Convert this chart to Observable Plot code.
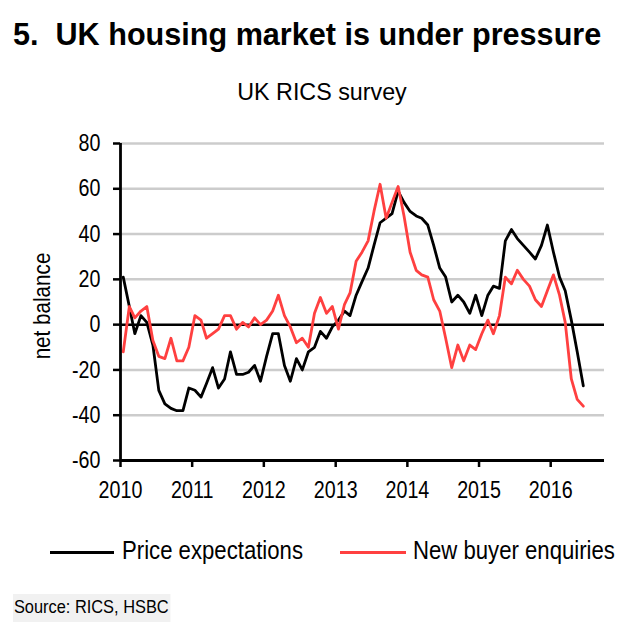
<!DOCTYPE html>
<html><head><meta charset="utf-8">
<script src="https://cdn.jsdelivr.net/npm/d3@7"></script>
<script src="https://cdn.jsdelivr.net/npm/@observablehq/plot@0.6"></script>
<style>
body{margin:0;background:#fff;}
#wrap{position:relative;width:630px;height:641px;overflow:hidden;font-family:"Liberation Sans",Arial,sans-serif;color:#000;}
#title{position:absolute;left:13px;top:17px;font-weight:bold;font-size:30.6px;white-space:nowrap;}
#subtitle{position:absolute;left:0;width:644px;text-align:center;top:78px;font-size:24px;white-space:nowrap;transform:scaleX(0.97);transform-origin:50% 50%;}
#chart{position:absolute;left:0;top:115px;}
#ylabel{position:absolute;left:42px;top:306px;transform:translate(-50%,-50%) rotate(-90deg) scaleX(0.86);font-size:24px;white-space:nowrap;}
#legend{position:absolute;left:0;top:536px;width:630px;height:32px;font-size:25px;}
.sw{position:absolute;top:15px;height:3px;}
.lt{position:absolute;top:0;white-space:nowrap;transform:scaleX(0.886);transform-origin:0 50%;}
#source{position:absolute;left:13px;top:594px;background:#f1f1f1;font-size:18px;padding:3px 2px 4px 1px;white-space:nowrap;transform:scaleX(0.91);transform-origin:0 50%;}
</style>
</head><body>
<div id="wrap">
  <div id="title">5.&nbsp; UK housing market is under pressure</div>
  <div id="subtitle">UK RICS survey</div>
  <div id="chart"></div>
  <div id="ylabel">net balance</div>
  <div id="legend">
    <div class="sw" style="left:50px;width:64px;background:#000"></div>
    <div class="lt" style="left:122px">Price expectations</div>
    <div class="sw" style="left:340px;width:66px;background:#ff4040"></div>
    <div class="lt" style="left:413px">New buyer enquiries</div>
  </div>
  <div id="source">Source: RICS, HSBC</div>
</div>
<script>
// Monthly survey readings, Jan 2010 – Jun 2016 (net balance)
const firstYear = 2010;
const priceExpectations = [
  21, 8, -4, 4, 1, -9, -29, -35, -37, -38, -38, -28,
  -29, -32, -26, -19, -28, -24, -12, -22, -22, -21, -18, -25,
  -14, -4, -4, -18, -25, -15, -20, -12, -10, -3, -6, -1,
  2, 6, 4, 13, 19, 25, 35, 45, 47, 49, 59, 54,
  50, 48, 47, 44, 35, 25, 21, 10, 13, 10, 5, 13,
  4, 13, 17, 16, 37, 42, 38, 35, 32, 29, 35, 44,
  32, 21, 15, 2, -12, -27
];
const newBuyerEnquiries = [
  -12, 8, 3, 6, 8, -7, -14, -15, -6, -16, -16, -10,
  4, 2, -6, -4, -2, 4, 4, -2, 1, -1, 3, 0,
  2, 6, 13, 4, -1, -8, -6, -10, 5, 12, 5, 8,
  -2, 9, 14, 28, 32, 37, 50, 62, 47, 54, 61, 48,
  32, 24, 22, 21, 11, 6, -6, -19, -9, -16, -9, -11,
  -4, 2, -4, 4, 21, 18, 24, 20, 17, 11, 8, 15,
  22, 13, 1, -24, -33, -36
];
const yearTicks = [2010, 2011, 2012, 2013, 2014, 2015, 2016];
const yTicks = [-60, -40, -20, 0, 20, 40, 60, 80];
const gridValues = [-40, -20, 20, 40, 60, 80];
const seriesNames = ["Price expectations", "New buyer enquiries"];

const monthDate = i => new Date(Date.UTC(firstYear, i, 15));
const priceData = priceExpectations.map((v, i) => ({date: monthDate(i), value: v}));
const buyerData = newBuyerEnquiries.map((v, i) => ({date: monthDate(i), value: v}));
const xStart = new Date(Date.UTC(2010, 0, 1));
const xEnd = new Date(Date.UTC(2016, 9, 1));

const chart = Plot.plot({
  width: 630,
  height: 400,
  marginLeft: 120,
  marginRight: 26,
  marginTop: 28,
  marginBottom: 55,
  x: {type: "utc", domain: [xStart, xEnd]},
  y: {domain: [-60, 80]},
  style: {fontFamily: '"Liberation Sans",Arial,sans-serif', fontSize: "24px", color: "#000", background: "transparent", overflow: "visible"},
  marks: [
    Plot.ruleY(gridValues, {stroke: "#cccccc", strokeWidth: 2.5}),
    Plot.ruleY([0], {stroke: "#000", strokeWidth: 2.5}),
    Plot.lineY(priceData, {x: "date", y: "value", stroke: "#000", strokeWidth: 2.8}),
    Plot.lineY(buyerData, {x: "date", y: "value", stroke: "#ff4040", strokeWidth: 2.8}),
    Plot.axisY({ticks: yTicks, tickFormat: d => String(d), tickSize: 7, tickPadding: 13, strokeWidth: 2.5, label: null, fontSize: 24}),
    Plot.axisX({ticks: yearTicks.map(y => new Date(Date.UTC(y, 0, 1))), tickFormat: d3.utcFormat("%Y"), tickSize: 7, tickPadding: 13, strokeWidth: 2.5, label: null, fontSize: 24}),
    Plot.ruleX([xStart], {stroke: "#000", strokeWidth: 2.8}),
    Plot.ruleY([-60], {stroke: "#000", strokeWidth: 2.8})
  ]
});
document.getElementById("chart").appendChild(chart);
// condense axis tick labels (narrow typeface look)
chart.querySelectorAll("text").forEach(t => {
  const len = t.getComputedTextLength();
  if (len > 0) {
    t.setAttribute("textLength", (len * 0.82).toFixed(2));
    t.setAttribute("lengthAdjust", "spacingAndGlyphs");
  }
});
</script>
</body></html>
